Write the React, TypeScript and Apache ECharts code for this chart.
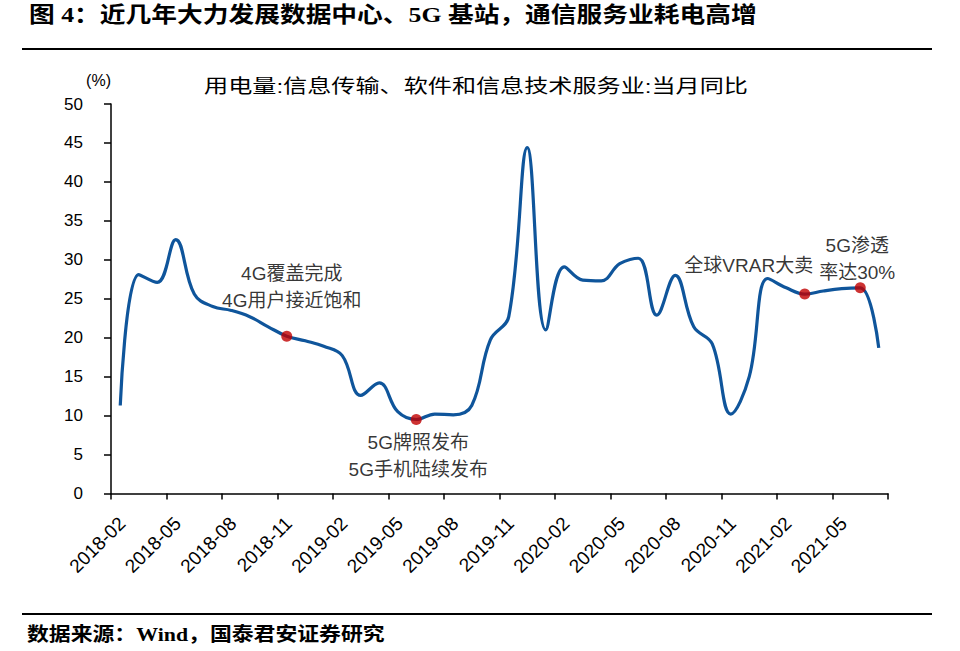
import React, { useEffect, useRef } from 'react';
import * as echarts from 'echarts';

const months = [
  '2018-02', '2018-03', '2018-04', '2018-05', '2018-06', '2018-07', '2018-08', '2018-09', '2018-10', '2018-11', '2018-12',
  '2019-01', '2019-02', '2019-03', '2019-04', '2019-05', '2019-06', '2019-07', '2019-08', '2019-09', '2019-10', '2019-11', '2019-12',
  '2020-01', '2020-02', '2020-03', '2020-04', '2020-05', '2020-06', '2020-07', '2020-08', '2020-09', '2020-10', '2020-11', '2020-12',
  '2021-01', '2021-02', '2021-03', '2021-04', '2021-05', '2021-06', '2021-07',
];

const values = [
  11.3, 28.1, 27.1, 32.6, 25.6, 24.0, 23.5, 22.7, 21.4, 20.2, 19.6,
  18.9, 17.7, 12.6, 14.2, 10.5, 9.5, 10.2, 10.1, 11.3, 19.7, 22.7, 44.4,
  21.0, 29.1, 27.4, 27.3, 29.5, 30.2, 22.9, 28.0, 21.4, 19.2, 10.2, 15.0,
  27.6, 26.4, 25.6, 26.0, 26.3, 26.4, 18.7,
];

const noteMonths = ['2018-11', '2019-06', '2021-03', '2021-06'];
const noteTexts = ['4G覆盖完成\n4G用户接近饱和', '5G牌照发布\n5G手机陆续发布', '全球VRAR大卖', '5G渗透\n率达30%'];

const titleText = '图 4：近几年大力发展数据中心、5G 基站，通信服务业耗电高增';
const chartTitle = '用电量:信息传输、软件和信息技术服务业:当月同比';
const sourceText = '数据来源：Wind，国泰君安证券研究';
const unitText = '(%)';

const Y_MIN = 0;
const Y_MAX = 50;
const Y_INTERVAL = 5;

const noteLayout = [
  { position: 'top', offset: [5, -17] },
  { position: 'bottom', offset: [2, 4] },
  { position: 'top', offset: [-56, -10] },
  { position: 'top', offset: [-3, 4] },
];

const SANS = "'Liberation Sans', Arial, 'Noto Sans CJK SC', sans-serif";
const SERIF_BOLD = "'Liberation Serif', 'Times New Roman', 'Noto Sans CJK SC', serif";

export default function App() {
  const ref = useRef<HTMLDivElement>(null);

  useEffect(() => {
    if (!ref.current) return;
    const chart = echarts.init(ref.current, null, { renderer: 'svg' });

    const noteData = noteMonths.map((m, i) => ({
      value: [m, values[months.indexOf(m)]],
      label: {
        show: true,
        formatter: noteTexts[i],
        position: noteLayout[i].position,
        offset: noteLayout[i].offset,
        distance: 0,
      },
    }));

    chart.setOption({
      animation: false,
      backgroundColor: '#ffffff',
      grid: {
        left: 111,
        top: 104,
        width: 777,
        height: 389.5,
        containLabel: false,
        outerBoundsMode: 'none',
      },
      xAxis: {
        type: 'category',
        data: months,
        boundaryGap: true,
        axisLine: { show: true, lineStyle: { color: '#000', width: 1.5 } },
        axisTick: { show: true, interval: 2, length: 6, inside: false, lineStyle: { color: '#000', width: 1.5 } },
        axisLabel: {
          interval: 2,
          rotate: 45,
          fontSize: 19,
          color: '#000',
          fontFamily: SANS,
          margin: 15,
          align: 'right',
          verticalAlign: 'top',
          padding: [0, 7, 0, 0],
        },
        splitLine: { show: false },
      },
      yAxis: {
        type: 'value',
        min: Y_MIN,
        max: Y_MAX,
        interval: Y_INTERVAL,
        name: unitText,
        nameLocation: 'end',
        nameGap: 16,
        nameTextStyle: { fontSize: 16, color: '#000', fontFamily: SANS, align: 'right' },
        axisLine: { show: true, lineStyle: { color: '#000', width: 1.5 } },
        axisTick: { show: true, length: 7, inside: false, lineStyle: { color: '#000', width: 1.5 } },
        axisLabel: { fontSize: 17, color: '#000', fontFamily: SANS, margin: 28 },
        splitLine: { show: false },
      },
      series: [
        {
          type: 'line',
          data: values,
          smooth: 0.4,
          showSymbol: false,
          symbol: 'none',
          lineStyle: { color: '#0F559B', width: 3.2 },
          itemStyle: { color: '#0F559B' },
          z: 2,
        },
        {
          type: 'scatter',
          data: noteData,
          symbol: 'circle',
          symbolSize: 11,
          itemStyle: { color: '#C00000' },
          label: {
            show: true,
            fontSize: 19,
            lineHeight: 27,
            color: '#000',
            fontFamily: SANS,
            align: 'center',
          },
          z: 3,
        },
      ],
      graphic: [
        {
          type: 'text',
          x: 29,
          y: 15,
          scaleX: 1.17,
          style: {
            text: titleText,
            fontSize: 22,
            fontWeight: 'bold',
            fontFamily: SERIF_BOLD,
            fill: '#000',
            textAlign: 'left',
            textVerticalAlign: 'middle',
          },
        },
        {
          type: 'line',
          shape: { x1: 22, y1: 49, x2: 932, y2: 49 },
          style: { stroke: '#000', lineWidth: 2 },
        },
        {
          type: 'text',
          x: 476,
          y: 86,
          scaleX: 1.27,
          style: {
            text: chartTitle,
            fontSize: 19,
            fontFamily: SANS,
            fill: '#000',
            textAlign: 'center',
            textVerticalAlign: 'middle',
          },
        },
        {
          type: 'line',
          shape: { x1: 22, y1: 614, x2: 932, y2: 614 },
          style: { stroke: '#000', lineWidth: 2 },
        },
        {
          type: 'text',
          x: 27,
          y: 635,
          scaleX: 1.15,
          style: {
            text: sourceText,
            fontSize: 19,
            fontWeight: 'bold',
            fontFamily: SERIF_BOLD,
            fill: '#000',
            textAlign: 'left',
            textVerticalAlign: 'middle',
          },
        },
      ],
    });

    return () => {
      chart.dispose();
    };
  }, []);

  return (
    <div
      ref={ref}
      style={{ position: 'fixed', left: 0, top: 0, width: 960, height: 651, background: '#fff' }}
    />
  );
}
